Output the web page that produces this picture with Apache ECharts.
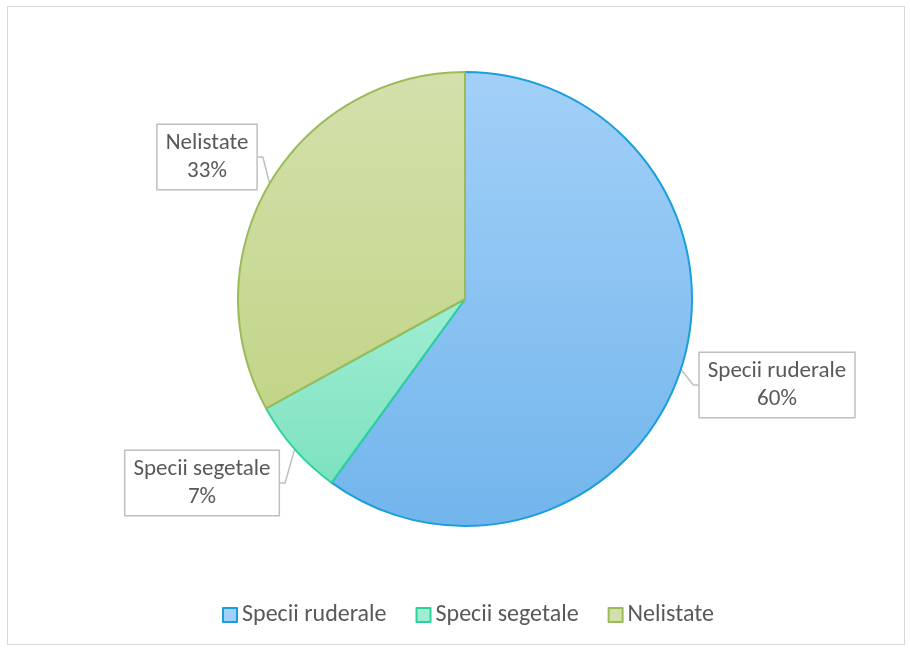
<!DOCTYPE html>
<html>
<head>
<meta charset="utf-8">
<script src="https://cdn.jsdelivr.net/npm/echarts@6/dist/echarts.min.js"></script>
<style>
  html, body { margin: 0; padding: 0; background: #fff; }
  #main { position: absolute; left: 7px; top: 6px; width: 898px; height: 639px; border: 1px solid #d9d9d9; box-sizing: border-box; }
</style>
</head>
<body>
<div id="main"></div>
<script>
// categories and shares (%)
var categories = ['Specii ruderale', 'Specii segetale', 'Nelistate'];
var shares = [60, 7, 33];

var fillTop = ['#a2d0f8', '#a0edd4', '#d4e0ac'];
var fillBottom = ['#72b5ec', '#7ce2bf', '#c2d588'];
var edgeColors = ['#1a9fdc', '#2bd39a', '#9bbb59'];

// label box centres (in chart coords)
var labelPos = [[769, 378], [194, 476], [199, 150]];

var myChart = echarts.init(document.getElementById('main'));

var pieData = [];
for (var i = 0; i < categories.length; i++) {
    pieData.push({
        name: categories[i],
        value: shares[i],
        itemStyle: {
            color: new echarts.graphic.LinearGradient(0, 0, 0, 1, [
                { offset: 0, color: fillTop[i] },
                { offset: 1, color: fillBottom[i] }
            ]),
            borderColor: edgeColors[i],
            borderWidth: 2
        }
    });
}

var option = {
    backgroundColor: '#fff',
    animation: false,
    legend: {
        bottom: 12,
        left: 209,
        itemWidth: 14,
        itemHeight: 14,
        itemGap: 29,
        icon: 'rect',
        textStyle: { fontFamily: 'Carlito, Lato, sans-serif', fontSize: 24, color: '#595959' },
        data: categories.map(function (c, i) {
            return { name: c, itemStyle: { color: fillTop[i], borderColor: edgeColors[i], borderWidth: 2 } };
        })
    },
    series: [{
        type: 'pie',
        center: [457, 292],
        radius: 227,
        startAngle: 90,
        clockwise: true,
        data: pieData,
        label: {
            show: true,
            formatter: '{b}\n{d}%',
            fontFamily: 'Carlito, Lato, sans-serif',
            fontSize: 23,
            lineHeight: 28,
            color: '#595959',
            backgroundColor: '#fff',
            borderColor: '#bfbfbf',
            borderWidth: 1.5,
            padding: [4, 8, 4, 8],
            align: 'center'
        },
        labelLine: {
            show: true,
            length: 5,
            length2: 5,
            lineStyle: { color: '#bfbfbf', width: 1.5 }
        },
        labelLayout: function (params) {
            var p = labelPos[params.dataIndex];
            return { x: p[0], y: p[1], align: 'center', verticalAlign: 'middle' };
        }
    }]
};

myChart.setOption(option);
</script>
</body>
</html>
